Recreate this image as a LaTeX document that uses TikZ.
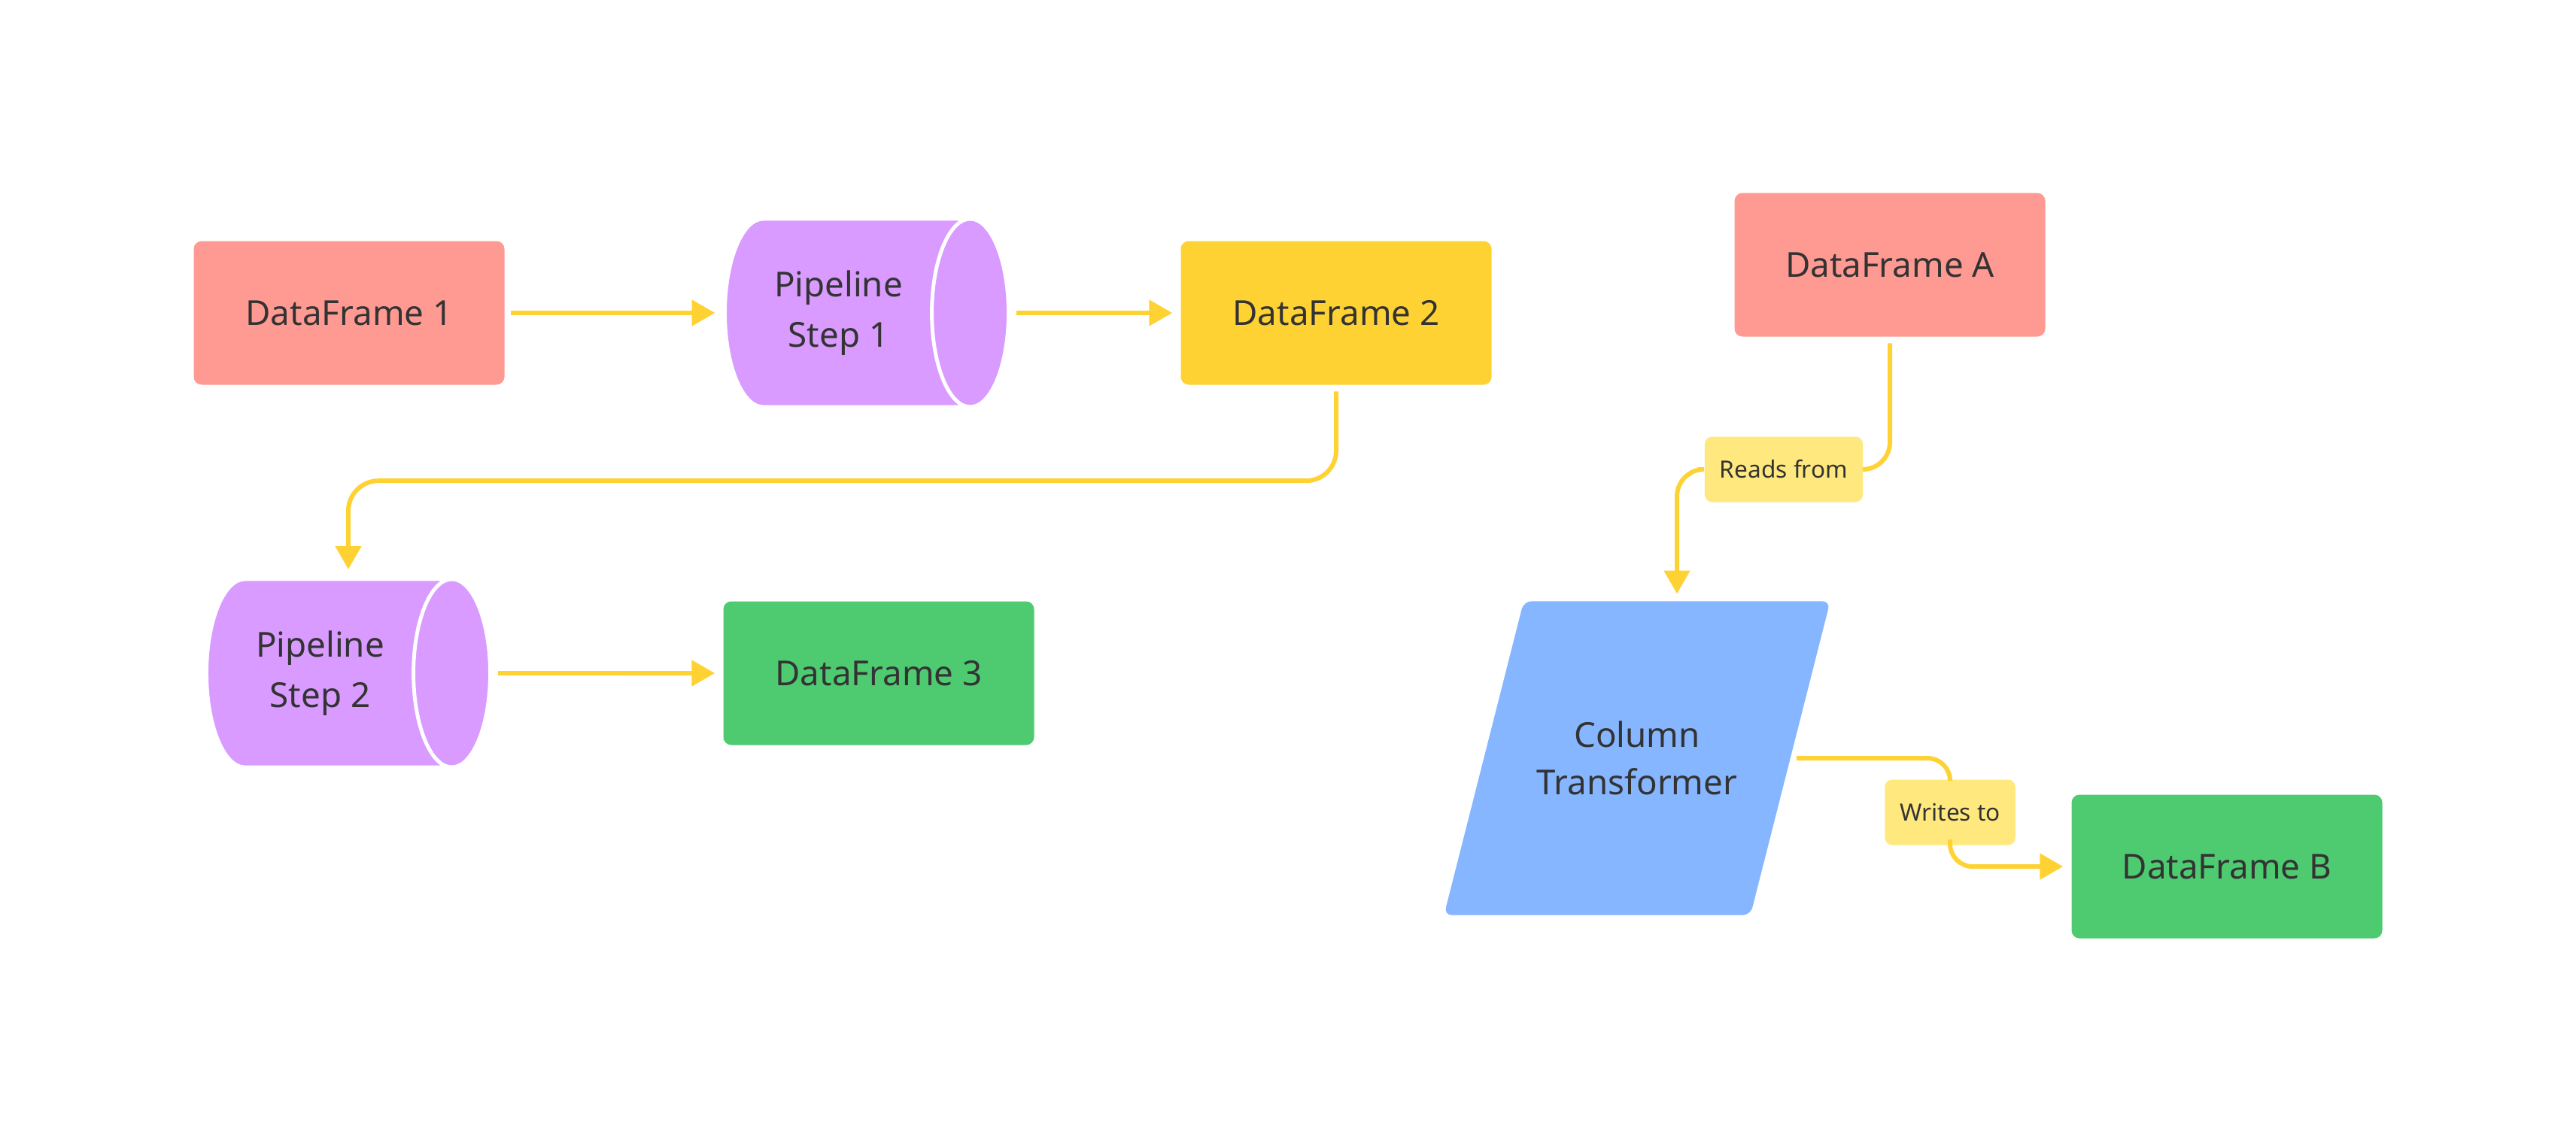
\documentclass[tikz,border=0pt]{standalone}
\usepackage{fontspec}
\setmainfont{Noto Sans}
\usetikzlibrary{shapes.geometric,arrows.meta,backgrounds}

\definecolor{salmon}{HTML}{FF9A92}
\definecolor{gold}{HTML}{FFD234}
\definecolor{lilac}{HTML}{D99BFF}
\definecolor{leaf}{HTML}{4ECB71}
\definecolor{sky}{HTML}{86B6FF}
\definecolor{cream}{HTML}{FFE97E}
\definecolor{ink}{HTML}{333333}

\begin{document}
\begin{tikzpicture}[
        frame/.style = {rectangle, rounded corners=3pt,
            minimum width=4.13cm, minimum height=1.91cm,
            text=ink, font=\fontsize{13}{19}\selectfont,
        },
        pipe/.style = {cylinder, shape border rotate=0, shape aspect=0.75,
            draw=white, line width=1.4pt,
            cylinder uses custom fill, cylinder body fill=lilac, cylinder end fill=lilac,
            minimum width=2.5cm, minimum height=3.77cm, anchor=shape center,
            align=center, text=ink, font=\fontsize{13}{19}\selectfont,
        },
        note/.style = {rectangle, rounded corners=2.8pt, fill=cream,
            minimum height=0.87cm, inner xsep=0.2cm,
            text=ink, font=\fontsize{9}{11}\selectfont,
        },
        link/.style = {draw=gold, line width=1.7pt, shorten <=2.3pt},
        flow/.style = {link, shorten >=3pt, -{Triangle[length=8.8pt,width=9.6pt]}},
    ]

        \useasboundingbox (0,0) rectangle (34.24,-15.04);

        % Pipeline
        \node[frame, fill=salmon] (df1) at (4.64,-4.16) {DataFrame 1};
        \node[pipe] (ps1) at (11.52,-4.16) {Pipeline\\Step 1};
        \node[frame, fill=gold] (df2) at (17.76,-4.16) {DataFrame 2};
        \node[pipe] (ps2) at (4.63,-8.95) {Pipeline\\Step 2};
        \node[frame, fill=leaf] (df3) at (11.68,-8.95) {DataFrame 3};

        % Column transformer
        \node[frame, fill=salmon] (dfa) at (25.12,-3.52) {DataFrame A};
        \node[note] (rd) at (23.71,-6.24) {Reads from};
        \node[rectangle, minimum width=4.06cm, minimum height=4.16cm,
            align=center, text=ink, font=\fontsize{13}{18}\selectfont] (ct) at (21.76,-10.08) {Column\\Transformer};
        \begin{scope}[on background layer]
            \fill[sky, rounded corners=3pt] ([xshift=-0.53cm]ct.south west) -- ([xshift=0.53cm]ct.north west)
                -- ([xshift=0.53cm]ct.north east) -- ([xshift=-0.53cm]ct.south east) -- cycle;
        \end{scope}
        \node[note] (wr) at (25.92,-10.80) {Writes to};
        \node[frame, fill=leaf] (dfb) at (29.60,-11.52) {DataFrame B};
        \coordinate (ctin) at (22.29,-8.00);

        % Connectors
        \draw[flow] (df1.east) -- (ps1.west);
        \draw[flow] (ps1.east) -- (df2.west);
        \draw[flow, rounded corners=0.4cm] (df2.south) -- ++(0,-1.27) -| (ps2.shape center |- ps2.north);
        \draw[flow] (ps2.east) -- (df3.west);

        \draw[link, rounded corners=0.36cm] (dfa.south) |- (rd.east);
        \draw[flow, rounded corners=0.36cm] (rd.west) -| (ctin);
        \draw[link, rounded corners=0.3cm] (ct.east) -| (wr.north);
        \draw[flow, rounded corners=0.3cm] (wr.south) |- (dfb.west);

\end{tikzpicture}
\end{document}
